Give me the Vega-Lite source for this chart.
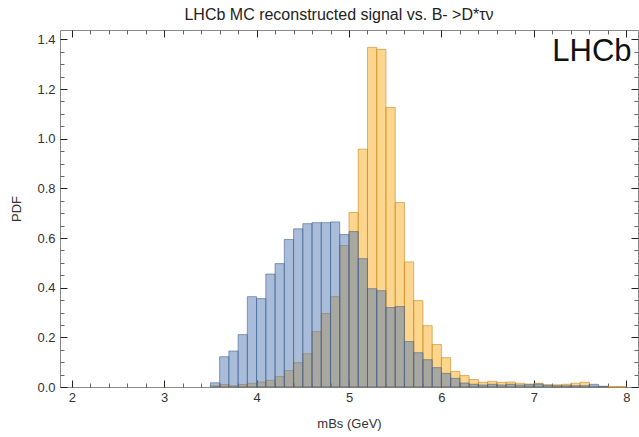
{
  "$schema": "https://vega.github.io/schema/vega-lite/v6.json",
  "width": 578,
  "height": 357,
  "autosize": "none",
  "padding": {"left": 60, "top": 30, "right": 1, "bottom": 50},
  "background": "white",
  "title": {
    "text": "LHCb MC reconstructed signal vs. B- >D*τν",
    "font": "Liberation Sans",
    "fontSize": 16,
    "fontWeight": "normal",
    "color": "#222",
    "offset": 7,
    "dx": -10
  },
  "config": {
    "view": {"stroke": "#8a8a8a", "strokeWidth": 1},
    "axis": {
      "domain": false,
      "grid": false,
      "labelFont": "Liberation Sans",
      "labelFontSize": 13,
      "labelColor": "#333",
      "titleFont": "Liberation Sans",
      "titleFontSize": 13,
      "titleFontWeight": "normal",
      "titleColor": "#333",
      "tickColor": "#444",
      "tickWidth": 1
    }
  },
  "data": {
    "values": [
      {"series": "orange", "lo": 3.5, "hi": 3.6, "pdf": 0.005},
      {"series": "orange", "lo": 3.6, "hi": 3.7, "pdf": 0.010},
      {"series": "orange", "lo": 3.7, "hi": 3.8, "pdf": 0.005},
      {"series": "orange", "lo": 3.8, "hi": 3.9, "pdf": 0.010},
      {"series": "orange", "lo": 3.9, "hi": 4.0, "pdf": 0.015},
      {"series": "orange", "lo": 4.0, "hi": 4.1, "pdf": 0.020},
      {"series": "orange", "lo": 4.1, "hi": 4.2, "pdf": 0.027},
      {"series": "orange", "lo": 4.2, "hi": 4.3, "pdf": 0.042},
      {"series": "orange", "lo": 4.3, "hi": 4.4, "pdf": 0.066},
      {"series": "orange", "lo": 4.4, "hi": 4.5, "pdf": 0.098},
      {"series": "orange", "lo": 4.5, "hi": 4.6, "pdf": 0.134},
      {"series": "orange", "lo": 4.6, "hi": 4.7, "pdf": 0.223},
      {"series": "orange", "lo": 4.7, "hi": 4.8, "pdf": 0.296},
      {"series": "orange", "lo": 4.8, "hi": 4.9, "pdf": 0.364},
      {"series": "orange", "lo": 4.9, "hi": 5.0, "pdf": 0.570},
      {"series": "orange", "lo": 5.0, "hi": 5.1, "pdf": 0.703},
      {"series": "orange", "lo": 5.1, "hi": 5.2, "pdf": 0.958},
      {"series": "orange", "lo": 5.2, "hi": 5.3, "pdf": 1.368},
      {"series": "orange", "lo": 5.3, "hi": 5.4, "pdf": 1.360},
      {"series": "orange", "lo": 5.4, "hi": 5.5, "pdf": 1.126},
      {"series": "orange", "lo": 5.5, "hi": 5.6, "pdf": 0.743},
      {"series": "orange", "lo": 5.6, "hi": 5.7, "pdf": 0.504},
      {"series": "orange", "lo": 5.7, "hi": 5.8, "pdf": 0.348},
      {"series": "orange", "lo": 5.8, "hi": 5.9, "pdf": 0.247},
      {"series": "orange", "lo": 5.9, "hi": 6.0, "pdf": 0.171},
      {"series": "orange", "lo": 6.0, "hi": 6.1, "pdf": 0.118},
      {"series": "orange", "lo": 6.1, "hi": 6.2, "pdf": 0.063},
      {"series": "orange", "lo": 6.2, "hi": 6.3, "pdf": 0.046},
      {"series": "orange", "lo": 6.3, "hi": 6.4, "pdf": 0.030},
      {"series": "orange", "lo": 6.4, "hi": 6.5, "pdf": 0.019},
      {"series": "orange", "lo": 6.5, "hi": 6.6, "pdf": 0.023},
      {"series": "orange", "lo": 6.6, "hi": 6.7, "pdf": 0.019},
      {"series": "orange", "lo": 6.7, "hi": 6.8, "pdf": 0.020},
      {"series": "orange", "lo": 6.8, "hi": 6.9, "pdf": 0.015},
      {"series": "orange", "lo": 6.9, "hi": 7.0, "pdf": 0.012},
      {"series": "orange", "lo": 7.0, "hi": 7.1, "pdf": 0.015},
      {"series": "orange", "lo": 7.1, "hi": 7.2, "pdf": 0.009},
      {"series": "orange", "lo": 7.2, "hi": 7.3, "pdf": 0.009},
      {"series": "orange", "lo": 7.3, "hi": 7.4, "pdf": 0.011},
      {"series": "orange", "lo": 7.4, "hi": 7.5, "pdf": 0.015},
      {"series": "orange", "lo": 7.5, "hi": 7.6, "pdf": 0.019},
      {"series": "orange", "lo": 7.6, "hi": 7.7, "pdf": 0.003},
      {"series": "orange", "lo": 7.7, "hi": 7.8, "pdf": 0.002},
      {"series": "orange", "lo": 7.8, "hi": 7.9, "pdf": 0.002},
      {"series": "orange", "lo": 7.9, "hi": 8.0, "pdf": 0.002},
      {"series": "blue", "lo": 3.5, "hi": 3.6, "pdf": 0.017},
      {"series": "blue", "lo": 3.6, "hi": 3.7, "pdf": 0.122},
      {"series": "blue", "lo": 3.7, "hi": 3.8, "pdf": 0.145},
      {"series": "blue", "lo": 3.8, "hi": 3.9, "pdf": 0.211},
      {"series": "blue", "lo": 3.9, "hi": 4.0, "pdf": 0.364},
      {"series": "blue", "lo": 4.0, "hi": 4.1, "pdf": 0.356},
      {"series": "blue", "lo": 4.1, "hi": 4.2, "pdf": 0.455},
      {"series": "blue", "lo": 4.2, "hi": 4.3, "pdf": 0.497},
      {"series": "blue", "lo": 4.3, "hi": 4.4, "pdf": 0.594},
      {"series": "blue", "lo": 4.4, "hi": 4.5, "pdf": 0.637},
      {"series": "blue", "lo": 4.5, "hi": 4.6, "pdf": 0.658},
      {"series": "blue", "lo": 4.6, "hi": 4.7, "pdf": 0.662},
      {"series": "blue", "lo": 4.7, "hi": 4.8, "pdf": 0.662},
      {"series": "blue", "lo": 4.8, "hi": 4.9, "pdf": 0.665},
      {"series": "blue", "lo": 4.9, "hi": 5.0, "pdf": 0.614},
      {"series": "blue", "lo": 5.0, "hi": 5.1, "pdf": 0.626},
      {"series": "blue", "lo": 5.1, "hi": 5.2, "pdf": 0.517},
      {"series": "blue", "lo": 5.2, "hi": 5.3, "pdf": 0.396},
      {"series": "blue", "lo": 5.3, "hi": 5.4, "pdf": 0.388},
      {"series": "blue", "lo": 5.4, "hi": 5.5, "pdf": 0.320},
      {"series": "blue", "lo": 5.5, "hi": 5.6, "pdf": 0.324},
      {"series": "blue", "lo": 5.6, "hi": 5.7, "pdf": 0.183},
      {"series": "blue", "lo": 5.7, "hi": 5.8, "pdf": 0.138},
      {"series": "blue", "lo": 5.8, "hi": 5.9, "pdf": 0.110},
      {"series": "blue", "lo": 5.9, "hi": 6.0, "pdf": 0.078},
      {"series": "blue", "lo": 6.0, "hi": 6.1, "pdf": 0.055},
      {"series": "blue", "lo": 6.1, "hi": 6.2, "pdf": 0.035},
      {"series": "blue", "lo": 6.2, "hi": 6.3, "pdf": 0.016},
      {"series": "blue", "lo": 6.3, "hi": 6.4, "pdf": 0.011},
      {"series": "blue", "lo": 6.4, "hi": 6.5, "pdf": 0.008},
      {"series": "blue", "lo": 6.5, "hi": 6.6, "pdf": 0.011},
      {"series": "blue", "lo": 6.6, "hi": 6.7, "pdf": 0.008},
      {"series": "blue", "lo": 6.7, "hi": 6.8, "pdf": 0.011},
      {"series": "blue", "lo": 6.8, "hi": 6.9, "pdf": 0.008},
      {"series": "blue", "lo": 6.9, "hi": 7.0, "pdf": 0.009},
      {"series": "blue", "lo": 7.0, "hi": 7.1, "pdf": 0.012},
      {"series": "blue", "lo": 7.1, "hi": 7.2, "pdf": 0.007},
      {"series": "blue", "lo": 7.2, "hi": 7.3, "pdf": 0.005},
      {"series": "blue", "lo": 7.3, "hi": 7.4, "pdf": 0.005},
      {"series": "blue", "lo": 7.4, "hi": 7.5, "pdf": 0.005},
      {"series": "blue", "lo": 7.5, "hi": 7.6, "pdf": 0.005},
      {"series": "blue", "lo": 7.6, "hi": 7.7, "pdf": 0.011},
      {"series": "blue", "lo": 7.7, "hi": 7.8, "pdf": 0.003}
    ]
  },
  "resolve": {"axis": {"x": "independent", "y": "independent"}},
  "layer": [
    {
      "transform": [{"filter": "datum.series === 'orange'"}],
      "mark": {"type": "bar", "fill": "#f9ad1f", "fillOpacity": 0.5, "stroke": "#c8871a", "strokeOpacity": 0.6, "strokeWidth": 1},
      "encoding": {
        "x": {
          "field": "lo", "type": "quantitative",
          "scale": {"domain": [1.873, 8.127], "nice": false, "zero": false},
          "axis": {"orient": "bottom", "values": [2, 3, 4, 5, 6, 7, 8], "format": "d", "tickSize": -7, "labelPadding": 11, "tickColor": "#222", "title": "mBs (GeV)", "titlePadding": 13}
        },
        "x2": {"field": "hi"},
        "y": {
          "field": "pdf", "type": "quantitative",
          "scale": {"domain": [0, 1.438], "nice": false},
          "axis": {"orient": "left", "values": [0, 0.2, 0.4, 0.6, 0.8, 1.0, 1.2, 1.4], "format": ".1f", "tickSize": -7, "labelPadding": 12, "tickColor": "#222", "title": "PDF", "titlePadding": 13}
        },
        "y2": {"datum": 0}
      }
    },
    {
      "transform": [{"filter": "datum.series === 'blue'"}],
      "mark": {"type": "bar", "fill": "#5379b3", "fillOpacity": 0.5, "stroke": "#3b5b8c", "strokeOpacity": 0.55, "strokeWidth": 1},
      "encoding": {
        "x": {
          "field": "lo", "type": "quantitative",
          "scale": {"domain": [1.873, 8.127], "nice": false, "zero": false},
          "axis": {"orient": "bottom", "values": [2.2, 2.4, 2.6, 2.8, 3.2, 3.4, 3.6, 3.8, 4.2, 4.4, 4.6, 4.8, 5.2, 5.4, 5.6, 5.8, 6.2, 6.4, 6.6, 6.8, 7.2, 7.4, 7.6, 7.8], "labels": false, "tickSize": -4, "tickColor": "#666", "title": null}
        },
        "x2": {"field": "hi"},
        "y": {
          "field": "pdf", "type": "quantitative",
          "scale": {"domain": [0, 1.438], "nice": false},
          "axis": {"orient": "left", "values": [0.05, 0.1, 0.15, 0.25, 0.3, 0.35, 0.45, 0.5, 0.55, 0.65, 0.7, 0.75, 0.85, 0.9, 0.95, 1.05, 1.1, 1.15, 1.25, 1.3, 1.35], "labels": false, "tickSize": -4, "tickColor": "#666", "title": null}
        },
        "y2": {"datum": 0}
      }
    },
    {
      "data": {"values": [{"label": "LHCb"}]},
      "mark": {"type": "text", "font": "Liberation Sans", "fontSize": 31, "color": "#111", "align": "left", "baseline": "alphabetic"},
      "encoding": {
        "text": {"field": "label"},
        "x": {
          "datum": 7.2, "type": "quantitative",
          "scale": {"domain": [1.873, 8.127], "nice": false, "zero": false},
          "axis": {"orient": "top", "values": [2, 3, 4, 5, 6, 7, 8], "labels": false, "tickSize": -7, "tickColor": "#222", "title": null}
        },
        "y": {
          "datum": 1.315, "type": "quantitative",
          "scale": {"domain": [0, 1.438], "nice": false},
          "axis": {"orient": "right", "values": [0, 0.2, 0.4, 0.6, 0.8, 1.0, 1.2, 1.4], "labels": false, "tickSize": -7, "tickColor": "#222", "title": null}
        }
      }
    },
    {
      "data": {"values": [{"label": "LHCb"}]},
      "mark": {"type": "point", "opacity": 0},
      "encoding": {
        "x": {
          "datum": 7.2, "type": "quantitative",
          "scale": {"domain": [1.873, 8.127], "nice": false, "zero": false},
          "axis": {"orient": "top", "values": [2.2, 2.4, 2.6, 2.8, 3.2, 3.4, 3.6, 3.8, 4.2, 4.4, 4.6, 4.8, 5.2, 5.4, 5.6, 5.8, 6.2, 6.4, 6.6, 6.8, 7.2, 7.4, 7.6, 7.8], "labels": false, "tickSize": -4, "tickColor": "#666", "title": null}
        },
        "y": {
          "datum": 1.315, "type": "quantitative",
          "scale": {"domain": [0, 1.438], "nice": false},
          "axis": {"orient": "right", "values": [0.05, 0.1, 0.15, 0.25, 0.3, 0.35, 0.45, 0.5, 0.55, 0.65, 0.7, 0.75, 0.85, 0.9, 0.95, 1.05, 1.1, 1.15, 1.25, 1.3, 1.35], "labels": false, "tickSize": -4, "tickColor": "#666", "title": null}
        }
      }
    }
  ]
}
